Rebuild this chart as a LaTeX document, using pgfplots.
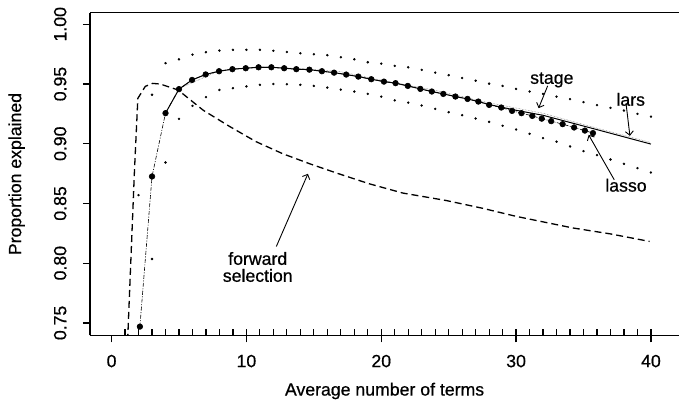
\documentclass[border=0pt]{standalone}
\usepackage{fontspec}
\setmainfont{Liberation Sans}[FakeBold=0.6]
\usepackage{pgfplots}
\pgfplotsset{compat=1.18}
\usetikzlibrary{arrows.meta}

\begin{document}
\begin{tikzpicture}[font=\fontsize{17.7bp}{20bp}\selectfont,
  note/.style={line width=0.9bp, -{Straight Barb[length=4bp,width=8bp]}}]
\begin{axis}[
    scale only axis,
    width=590bp, height=323bp,
    xmin=-1.607, xmax=42.1,
    ymin=0.7396, ymax=1.0097,
    axis x line*=bottom, axis y line*=left,
    axis line style={-, line width=1.5bp},
    tick style={black, line width=1.2bp},
    xtick={0,10,20,30,40},
    ytick={0.75,0.80,0.85,0.90,0.95,1.00},
    tick align=outside,
    major tick length=7bp,
    /pgf/number format/assume math mode=true,
    yticklabel style={rotate=90, anchor=south, inner sep=0pt,
        /pgf/number format/.cd, fixed, fixed zerofill, precision=2},
    xticklabel style={anchor=north, inner sep=0pt},
    yticklabel shift=16.3bp,
    xticklabel shift=12.3bp,
    xlabel={Average number of terms},
    ylabel={Proportion explained},
    xlabel style={at={(axis description cs:0.5,-0.1867)}, anchor=base, inner sep=0pt},
    ylabel style={at={(axis description cs:-0.1166,0.5)}, anchor=base, inner sep=0pt},
]

% rug: short strokes rising from the bottom axis at every integer
\addplot[ycomb, black, line width=1.2bp, mark=none] coordinates {
(1,0.7445)(2,0.7445)(3,0.7445)(4,0.7445)(5,0.7445)(6,0.7445)(7,0.7445)(8,0.7445)
(9,0.7445)(10,0.7445)(11,0.7445)(12,0.7445)(13,0.7445)(14,0.7445)(15,0.7445)
(16,0.7445)(17,0.7445)(18,0.7445)(19,0.7445)(20,0.7445)(21,0.7445)(22,0.7445)
(23,0.7445)(24,0.7445)(25,0.7445)(26,0.7445)(27,0.7445)(28,0.7445)(29,0.7445)
(30,0.7445)(31,0.7445)(32,0.7445)(33,0.7445)(34,0.7445)(35,0.7445)(36,0.7445)
(37,0.7445)(38,0.7445)(39,0.7445)(40,0.7445)
};

% upper band
\addplot[only marks, mark=*, mark size=1bp, black] coordinates {
(2,0.857)(3,0.941)(4,0.9674)(5,0.9707)(6,0.9746)(7,0.9766)(8,0.978)(9,0.9786)
(10,0.9786)(11,0.9786)(12,0.9778)(13,0.9768)(14,0.9757)(15,0.9749)(16,0.9741)
(17,0.9724)(18,0.9707)(19,0.9682)(20,0.967)(21,0.9652)(22,0.964)(23,0.9618)
(24,0.9595)(25,0.9574)(26,0.955)(27,0.9528)(28,0.9503)(29,0.9484)(30,0.9459)
(31,0.9437)(32,0.9417)(33,0.9394)(34,0.9373)(35,0.9348)(36,0.9323)(37,0.930)
(38,0.9278)(39,0.925)(40,0.9227)
};

% lower band
\addplot[only marks, mark=*, mark size=1bp, black] coordinates {
(3,0.8035)(4,0.8843)(5,0.9208)(6,0.9317)(7,0.939)(8,0.945)(9,0.9465)(10,0.948)
(11,0.9493)(12,0.950)(13,0.9498)(14,0.9493)(15,0.9484)(16,0.947)(17,0.9453)
(18,0.9437)(19,0.9417)(20,0.9395)(21,0.9363)(22,0.9344)(23,0.932)(24,0.9292)
(25,0.9264)(26,0.9239)(27,0.9211)(28,0.9183)(29,0.915)(30,0.9119)(31,0.9083)
(32,0.9047)(33,0.9017)(34,0.8977)(35,0.8938)(36,0.8905)(37,0.8868)(38,0.8832)
(39,0.8796)(40,0.8759)
};

% forward selection
\addplot[black, line width=1.3bp, dash pattern=on 7bp off 4bp] coordinates {
(1.19,0.735)(1.7,0.878)(1.95,0.938)(2.5,0.948)(3.04,0.9505)(3.6,0.950)
(4.93,0.945)(6.8,0.928)(8.76,0.9144)(10.7,0.9018)(12.7,0.8916)(14.7,0.8832)
(16.7,0.8754)(19.1,0.8665)(21.6,0.8587)(24.8,0.8525)(27.5,0.846)(30,0.8392)
(34.2,0.8295)(37,0.8245)(39.9,0.8182)
};

% stagewise
\addplot[black!60, line width=0.5bp, densely dotted] coordinates {
(5,0.9462)(8,0.9612)(11,0.9645)(14,0.963)(17,0.9602)(20,0.9532)(24,0.9447)
(28,0.9342)(32,0.9255)(36,0.913)(40,0.901)
};

% lars
\addplot[black, line width=1bp] coordinates {
(4.0,0.9256)(5.0,0.9457)(5.97,0.9534)(6.98,0.958)(7.97,0.9607)(8.96,0.9624)
(9.95,0.9632)(10.9,0.964)(11.85,0.964)(12.8,0.9632)(13.7,0.9624)(14.67,0.962)
(15.6,0.9607)(16.5,0.9595)(17.4,0.9579)(18.3,0.9562)(19.26,0.954)(20.2,0.952)
(21.06,0.9507)(21.97,0.9484)(22.9,0.9459)(23.75,0.9437)(24.6,0.9417)
(25.5,0.9395)(26.4,0.9375)(27.2,0.9353)(28.0,0.9328)(30,0.928)(32,0.9238)
(36,0.9118)(40,0.8997)
};

% lasso
\addplot[black, line width=0.6bp, dash pattern=on 4bp off 1.5bp on 1bp off 1.5bp,
    mark=*, mark size=2.8bp, mark options={solid}] coordinates {
(2.1,0.7469)(3.0,0.8726)(4.0,0.9256)(5.0,0.9457)(5.97,0.9534)(6.98,0.958)
(7.97,0.9607)(8.96,0.9624)(9.95,0.9632)(10.9,0.964)(11.85,0.964)(12.8,0.9632)
(13.7,0.9624)(14.67,0.962)(15.6,0.9607)(16.5,0.9595)(17.4,0.9579)(18.3,0.9562)
(19.26,0.954)(20.2,0.952)(21.06,0.9507)(21.97,0.9484)(22.9,0.9459)(23.75,0.9437)
(24.6,0.9417)(25.5,0.9395)(26.4,0.9375)(27.2,0.9353)(28.0,0.9325)(28.9,0.9303)
(29.7,0.9275)(30.4,0.9256)(31.2,0.9233)(31.9,0.921)(32.6,0.9189)(33.45,0.9164)
(34.3,0.9136)(35.1,0.911)(35.7,0.9089)
};

% annotations
\node at (axis cs:32.65,0.9534) {stage};
\draw[note] (axis cs:32.34,0.9484) -- (axis cs:31.67,0.9298);
\node at (axis cs:38.5,0.9371) {lars};
\draw[note] (axis cs:38.15,0.934) -- (axis cs:38.44,0.9066);
\node at (axis cs:38.15,0.8652) {lasso};
\draw[note] (axis cs:37.28,0.8698) -- (axis cs:35.38,0.9074);
\node[align=center, inner sep=0pt] at (axis cs:10.84,0.7968) {forward\\[-3bp]selection};
\draw[note] (axis cs:12.22,0.814) -- (axis cs:14.56,0.8748);

\draw[line width=1.5bp] (rel axis cs:0,1) -- (rel axis cs:1,1);
\end{axis}
% blank margin round the axis, as in the reference
\path (-90bp,-65.3bp) rectangle (590bp,335.7bp);
\end{tikzpicture}
\end{document}
